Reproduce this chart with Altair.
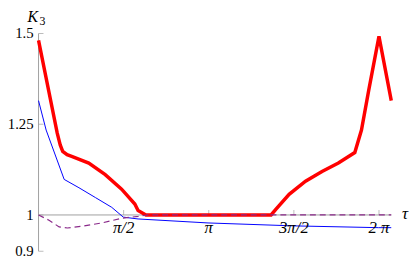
import math
import altair as alt
import pandas as pd

PI = math.pi

# ---- data ----
red_tau = [0.0, 0.345, 0.400, 0.446, 0.527, 0.624, 0.927, 1.231, 1.533, 1.777, 1.837, 1.982,
           3.14, 4.292, 4.383, 4.625, 4.928, 5.232, 5.534, 5.837, 5.96, 6.092, 6.283, 6.51]
red_k = [1.481, 1.2255, 1.193, 1.175, 1.166, 1.161, 1.143, 1.111, 1.071, 1.030, 1.012, 1.0,
         1.0, 1.0, 1.016, 1.057, 1.093, 1.120, 1.143, 1.172, 1.234, 1.342, 1.492, 1.315]

blue_tau = [0.0, 0.14, 0.473, 0.746, 1.049, 1.351, 1.564, 1.837, 3.128, 4.692, 6.274, 6.51]
blue_k = [1.315, 1.234, 1.098, 1.075, 1.048, 1.021, 0.994, 0.989, 0.978, 0.970, 0.965, 0.965]

purple_tau = [0.0, 0.2, 0.38, 0.533, 0.806, 1.17, 1.534, 1.838, 2.02, 6.51]
purple_k = [1.0, 0.985, 0.967, 0.964, 0.969, 0.978, 0.991, 0.996, 1.0, 1.0]

x_ticks = [PI / 2, PI, 3 * PI / 2, 2 * PI]
x_labels = ["π/2", "π", "3π/2", "2 π"]
y_ticks = [0.9, 1.0, 1.25, 1.5]
y_labels = ["0.9", "1", "1.25", "1.5"]

X_MAX = 6.51
FONT = "Liberation Serif"
AXIS_COLOR = "#a0a0a0"

xs = alt.Scale(domain=[0, X_MAX], nice=False, zero=False)
ys = alt.Scale(domain=[0.9, 1.5], nice=False, zero=False)


def series(t, k):
    return pd.DataFrame({"tau": t, "k": k})


def X():
    return alt.X("tau:Q", scale=xs, axis=None)


def Y():
    return alt.Y("k:Q", scale=ys, axis=None)


# axes
y_axis = alt.Chart(pd.DataFrame({"tau": [0.0], "k": [0.9], "k2": [1.5]})).mark_rule(
    color=AXIS_COLOR, strokeWidth=1
).encode(x=X(), y=Y(), y2="k2:Q")
x_axis = alt.Chart(pd.DataFrame({"tau": [0.0], "tau2": [X_MAX], "k": [1.0]})).mark_rule(
    color=AXIS_COLOR, strokeWidth=1
).encode(x=X(), x2="tau2:Q", y=Y())

xt = pd.DataFrame({"tau": x_ticks, "lab": x_labels, "k": [1.0] * 4})
yt = pd.DataFrame({"k": y_ticks, "lab": y_labels, "tau": [0.0] * 4})

x_tick_marks = alt.Chart(xt).mark_tick(
    orient="vertical", size=5, thickness=1, color=AXIS_COLOR, yOffset=-2.5
).encode(x=X(), y=Y())
y_tick_marks = alt.Chart(yt).mark_tick(
    orient="horizontal", size=5, thickness=1, color=AXIS_COLOR, xOffset=2.5
).encode(x=X(), y=Y())

x_tick_text = alt.Chart(xt).mark_text(
    font=FONT, fontSize=17, fontStyle="italic", dy=13, baseline="middle", align="center", color="black"
).encode(text="lab:N", x=X(), y=Y())
y_tick_text = alt.Chart(yt).mark_text(
    font=FONT, fontSize=15, dx=-5, baseline="middle", align="right", color="black"
).encode(text="lab:N", x=X(), y=Y())

red = alt.Chart(series(red_tau, red_k)).mark_line(
    color="#ff0000", strokeWidth=3.5, strokeJoin="miter"
).encode(x=X(), y=Y())
blue = alt.Chart(series(blue_tau, blue_k)).mark_line(color="#0000ff", strokeWidth=1).encode(x=X(), y=Y())
purple = alt.Chart(series(purple_tau, purple_k)).mark_line(
    color="#8a2a8a", strokeWidth=1.2, strokeDash=[6, 4]
).encode(x=X(), y=Y())

k_label = alt.Chart(pd.DataFrame({"t": ["K"]})).mark_text(
    font=FONT, fontSize=16, fontStyle="italic", align="center", baseline="alphabetic", color="black"
).encode(text="t:N", x=alt.value(-6), y=alt.value(-12))
k_sub = alt.Chart(pd.DataFrame({"t": ["3"]})).mark_text(
    font=FONT, fontSize=12, align="center", baseline="alphabetic", color="black"
).encode(text="t:N", x=alt.value(4), y=alt.value(-9))
tau_label = alt.Chart(pd.DataFrame({"t": ["τ"], "k": [1.0]})).mark_text(
    font=FONT, fontSize=17, fontStyle="italic", align="center", baseline="middle", color="black", dy=-1
).encode(text="t:N", x=alt.value(372), y=Y())

chart = alt.layer(
    y_axis, x_axis, x_tick_marks, y_tick_marks, red, blue, purple,
    x_tick_text, y_tick_text, k_label, k_sub, tau_label
).properties(
    width=358, height=221,
    autosize=alt.AutoSizeParams(type="none"),
    padding={"left": 31, "top": 24, "right": 18, "bottom": 8},
).configure_view(stroke=None)

chart.save("out.html", embed_options={"renderer": "svg", "actions": False})
